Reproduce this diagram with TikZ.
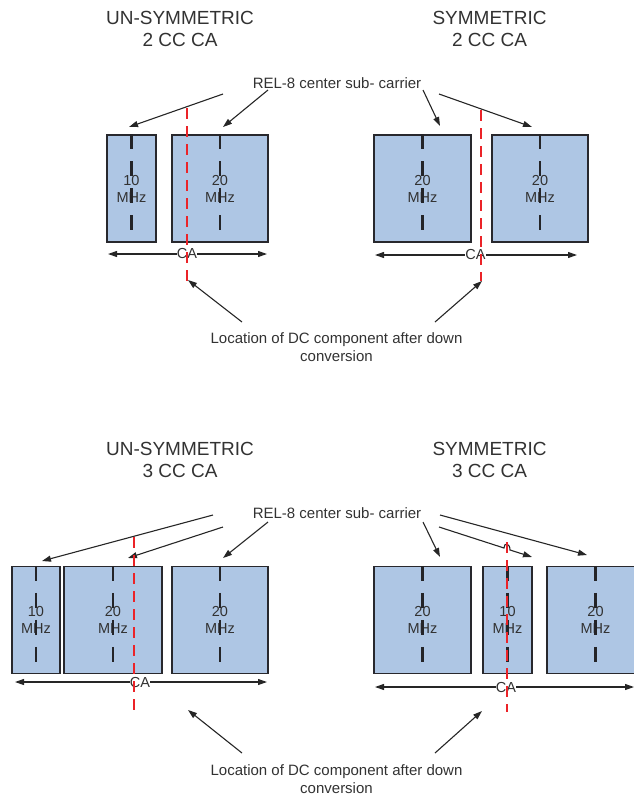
\documentclass[tikz,border=0pt]{standalone}
\usepackage{fontspec}
\setmainfont{Liberation Sans}
\usetikzlibrary{arrows.meta}
\definecolor{boxfill}{RGB}{174,198,228}
\definecolor{boxline}{RGB}{40,40,45}
\definecolor{txt}{RGB}{50,50,50}
\definecolor{dcred}{RGB}{235,35,40}
\begin{document}
\begin{tikzpicture}[x=1pt,y=-1pt,
  band/.style={draw=boxline, fill=boxfill, line width=1.4pt, minimum height=107pt, inner sep=0pt, align=center, text=txt, font=\fontsize{14.5pt}{17pt}\selectfont},
  ctrline/.style={draw=boxline!90!black, line width=2.3pt, dash pattern=on 15pt off 12pt},
  dcline/.style={draw=dcred, line width=2pt, dash pattern=on 11pt off 7pt},
  title/.style={align=center, text=txt, inner sep=0pt, font=\fontsize{19pt}{22pt}\selectfont},
  lbl/.style={align=center, text=txt, inner sep=0pt, font=\fontsize{15pt}{18pt}\selectfont},
  arr/.style={draw=black!85, line width=1.1pt, -{Triangle[length=9pt,width=6pt]}},
  caarr/.style={draw=black!85, line width=1.1pt, {Triangle[length=9pt,width=6pt]}-{Triangle[length=9pt,width=6pt]}},
  calbl/.style={fill=white, text=txt, inner sep=0.3pt, font=\fontsize{14.5pt}{17pt}\selectfont}
]
\path[use as bounding box] (0,0) rectangle (634,801);
\clip (0,0) rectangle (634,801);

% ---------------- top half ----------------
\node[title] (t1) at (180,28.5) {UN-SYMMETRIC\\2 CC CA};
\node[title] (t2) at (489.5,28.5) {SYMMETRIC\\2 CC CA};
\node[lbl] (rel1) at (337,83) {REL-8 center sub- carrier};

\node[band, minimum width=49pt] (b1) at (131.5,188.5) {10\\MHz};
\node[band, minimum width=96pt] (b2) at (220,188.5) {20\\MHz};
\node[band, minimum width=97pt] (b3) at (422.5,188.5) {20\\MHz};
\node[band, minimum width=96pt] (b4) at (540,188.5) {20\\MHz};
\foreach \b in {b1,b2,b3,b4} \draw[ctrline] (\b.north) -- ++(0,98);

\coordinate (caL1) at (108,254); \coordinate (caR1) at (267,254);
\draw[caarr] (caL1) -- (caR1);
\node[calbl] (ca1) at (187,254) {CA};
\coordinate (caL2) at (375,255); \coordinate (caR2) at (577,255);
\draw[caarr] (caL2) -- (caR2);
\node[calbl] (ca2) at (475.5,255) {CA};

\coordinate (s1) at (223,94);  \coordinate (e1) at (129,127);
\coordinate (s2) at (268,90);  \coordinate (e2) at (223,127);
\coordinate (s3) at (423,90);  \coordinate (e3) at (440,126);
\coordinate (s4) at (439,94);  \coordinate (e4) at (532,127);
\draw[arr] (s1) -- (e1);
\draw[arr] (s2) -- (e2);
\draw[arr] (s3) -- (e3);
\draw[arr] (s4) -- (e4);

\coordinate (r1t) at (187,108); \coordinate (r1b) at (187,281);
\coordinate (r2t) at (481,110); \coordinate (r2b) at (481,281);
\draw[dcline] (r1t) -- (r1b);
\draw[dcline] (r2t) -- (r2b);

\node[lbl] (loc1) at (336.5,347) {Location of DC component after down\\conversion};
\coordinate (ds1) at (242,322); \coordinate (d1) at (188,280);
\coordinate (ds2) at (435,322); \coordinate (d2) at (482,281);
\draw[arr] (ds1) -- (d1);
\draw[arr] (ds2) -- (d2);

% ---------------- bottom half ----------------
\node[title] (t3) at (180,459.5) {UN-SYMMETRIC\\3 CC CA};
\node[title] (t4) at (489.5,459.5) {SYMMETRIC\\3 CC CA};
\node[lbl] (rel2) at (337,513) {REL-8 center sub- carrier};

\node[band, minimum width=48pt] (c1) at (36,620) {10\\MHz};
\node[band, minimum width=98pt] (c2) at (113,620) {20\\MHz};
\node[band, minimum width=96pt] (c3) at (220,620) {20\\MHz};
\node[band, minimum width=97pt] (c4) at (422.5,620) {20\\MHz};
\node[band, minimum width=49pt] (c5) at (507.5,620) {10\\MHz};
\node[band, minimum width=97pt] (c6) at (595.5,620) {20\\MHz};
\foreach \b in {c1,c2,c3,c4,c5,c6} \draw[ctrline] (\b.north) -- ++(0,98);

\coordinate (caL3) at (15,682); \coordinate (caR3) at (267,682);
\draw[caarr] (caL3) -- (caR3);
\node[calbl] (ca3) at (140,682) {CA};
\coordinate (caL4) at (375,687); \coordinate (caR4) at (634,687);
\draw[caarr] (caL4) -- (caR4);
\node[calbl] (ca4) at (506,687) {CA};

\coordinate (u1) at (213,515); \coordinate (v1) at (42,561);
\coordinate (u2) at (223,527); \coordinate (v2) at (128,558);
\coordinate (u3) at (268,522); \coordinate (v3) at (223,558);
\coordinate (u4) at (423,522); \coordinate (v4) at (440,557);
\coordinate (u5) at (439,527); \coordinate (v5) at (532,557);
\coordinate (u6) at (440,515); \coordinate (v6) at (587,555);
\draw[arr] (u1) -- (v1);
\draw[arr] (u2) -- (v2);
\draw[arr] (u3) -- (v3);
\draw[arr] (u4) -- (v4);
\draw[arr] (u5) -- (504,548) .. controls (504,542) and (510,543) .. (510,550) -- (v5);
\draw[arr] (u6) -- (v6);

\coordinate (r3t) at (134,537); \coordinate (r3b) at (134,712);
\coordinate (r4t) at (507,542); \coordinate (r4b) at (507,712);
\draw[dcline] (r3t) -- (r3b);
\draw[dcline] (r4t) -- (r4b);

\node[lbl] (loc2) at (336.5,779) {Location of DC component after down\\conversion};
\coordinate (ds3) at (242,753); \coordinate (d3) at (188,710);
\coordinate (ds4) at (435,753); \coordinate (d4) at (482,711);
\draw[arr] (ds3) -- (d3);
\draw[arr] (ds4) -- (d4);
\end{tikzpicture}
\end{document}
